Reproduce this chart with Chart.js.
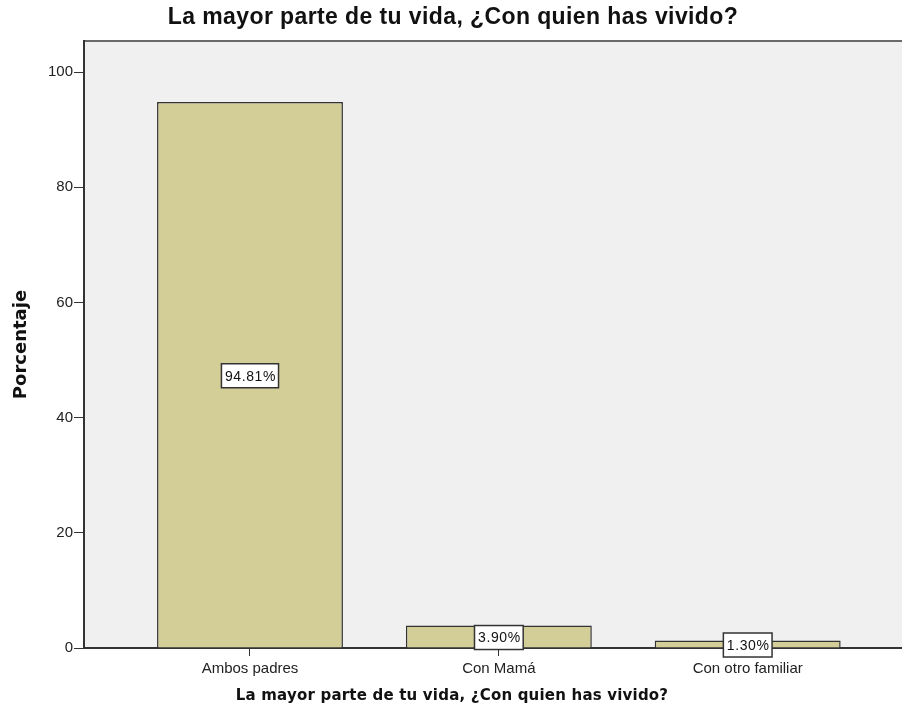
<!DOCTYPE html>
<html>
<head>
<meta charset="utf-8">
<script src="https://cdn.jsdelivr.net/npm/chart.js@4"></script>
<style>
  html, body { margin: 0; padding: 0; background: #ffffff; }
  #wrap { width: 902px; height: 715px; position: relative; }
</style>
</head>
<body>
<div id="wrap"><canvas id="chart"></canvas></div>
<script>
// データ
const categories = ['Ambos padres', 'Con Mamá', 'Con otro familiar'];
const percents = [94.81, 3.90, 1.30];
const yTicks = [0, 20, 40, 60, 80, 100];

const titleText = 'La mayor parte de tu vida, ¿Con quien has vivido?';
const xTitleText = 'La mayor parte de tu vida, ¿Con quien has vivido?';
const barColor = '#d3ce97';
const lineColor = '#333333';

// プロット背景とタイトル
const backgroundPlugin = {
    id: 'plotBackground',
    beforeDraw(chart) {
        const { ctx, chartArea: a } = chart;
        ctx.save();
        ctx.fillStyle = '#f0f0f0';
        ctx.fillRect(a.left, a.top, a.right - a.left, a.bottom - a.top);
        ctx.strokeStyle = '#6a6a6a';
        ctx.lineWidth = 2;
        ctx.beginPath();
        ctx.moveTo(a.left, a.top);
        ctx.lineTo(a.right, a.top);
        ctx.stroke();
        ctx.fillStyle = '#111111';
        ctx.textAlign = 'center';
        ctx.textBaseline = 'middle';
        ctx.letterSpacing = '0.4px';
        ctx.font = 'bold 23px "Liberation Sans", Arial, sans-serif';
        ctx.fillText(titleText, 453, 18);
        ctx.letterSpacing = '0.2px';
        ctx.font = 'bold 15px "DejaVu Sans", Verdana, sans-serif';
        ctx.fillText(xTitleText, 452, 696);
        ctx.restore();
    }
};

// 値ラベル（白い箱）
const valueLabelPlugin = {
    id: 'valueLabels',
    afterDatasetsDraw(chart) {
        const { ctx } = chart;
        const meta = chart.getDatasetMeta(0);
        ctx.save();
        ctx.letterSpacing = '0.6px';
        ctx.font = '14px "Liberation Sans", Arial, sans-serif';
        ctx.textAlign = 'center';
        ctx.textBaseline = 'middle';
        meta.data.forEach((bar, i) => {
            const text = percents[i].toFixed(2) + '%';
            const cx = bar.x;
            const cy = (bar.y + bar.base) / 2 + 1;
            const w = ctx.measureText(text).width + 6;
            const h = 24;
            ctx.fillStyle = '#ffffff';
            ctx.fillRect(cx - w / 2, cy - h / 2, w, h);
            ctx.strokeStyle = lineColor;
            ctx.lineWidth = 1.5;
            ctx.strokeRect(cx - w / 2, cy - h / 2, w, h);
            ctx.fillStyle = '#111111';
            ctx.fillText(text, cx + 0.5, cy + 1);
        });
        ctx.restore();
    }
};

new Chart(document.getElementById('chart').getContext('2d'), {
    type: 'bar',
    data: {
        datasets: [{
            data: percents.map((v, i) => ({ x: i, y: v })),
            backgroundColor: barColor,
            borderColor: lineColor,
            borderWidth: 1.5,
            barPercentage: 0.747,
            categoryPercentage: 1,
        }]
    },
    options: {
        responsive: true,
        maintainAspectRatio: false,
        animation: false,
        layout: { padding: { top: 41, right: 0, bottom: 0, left: 0 } },
        plugins: {
            legend: { display: false },
            tooltip: { enabled: false },
        },
        scales: {
            x: {
                type: 'linear',
                offset: false,
                min: -0.667,
                max: 2.62,
                afterBuildTicks: (s) => { s.ticks = categories.map((c, i) => ({ value: i })); },
                afterFit: (s) => { s.height = 67; },
                ticks: {
                    callback: (v) => categories[v],
                    color: '#222222',
                    font: { size: 15, family: '"Liberation Sans", Arial, sans-serif' },
                    padding: 4,
                    maxRotation: 0,
                },
                grid: { offset: false, drawOnChartArea: false, drawTicks: true, tickLength: 8, color: lineColor },
                border: { color: lineColor, width: 2 },
            },
            y: {
                min: 0,
                max: 105.4,
                afterBuildTicks: (s) => { s.ticks = yTicks.map(v => ({ value: v })); },
                afterFit: (s) => { s.width = 84; },
                ticks: {
                    color: '#222222',
                    font: { size: 15, family: '"Liberation Sans", Arial, sans-serif' },
                    padding: 1,
                },
                grid: { drawOnChartArea: false, drawTicks: true, tickLength: 10, color: lineColor },
                border: { color: lineColor, width: 2 },
                title: {
                    display: true,
                    text: 'Porcentaje',
                    color: '#111111',
                    font: { size: 18, weight: 'bold', family: '"DejaVu Sans", Verdana, sans-serif' },
                    padding: { top: 11, bottom: 0 },
                },
            }
        }
    },
    plugins: [backgroundPlugin, valueLabelPlugin]
});
</script>
</body>
</html>
